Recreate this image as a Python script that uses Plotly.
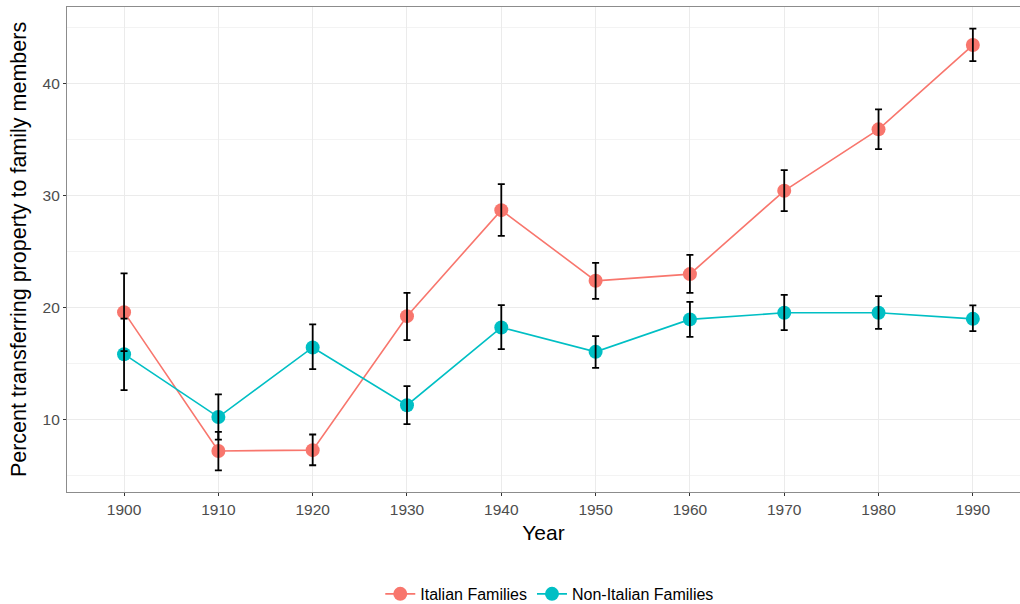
import plotly.graph_objects as go

years = [1900, 1910, 1920, 1930, 1940, 1950, 1960, 1970, 1980, 1990]

italian = [19.58, 7.17, 7.24, 19.22, 28.70, 22.38, 22.98, 30.43, 35.92, 43.46]
italian_hi = [23.04, 8.87, 8.64, 21.31, 31.03, 23.99, 24.70, 32.28, 37.71, 44.92]
italian_lo = [16.10, 5.44, 5.89, 17.07, 26.40, 20.77, 21.31, 28.61, 34.16, 42.03]

non_italian = [15.82, 10.20, 16.42, 11.26, 18.21, 16.03, 18.93, 19.52, 19.52, 18.98]
non_italian_hi = [19.00, 12.22, 18.48, 12.96, 20.21, 17.43, 20.50, 21.13, 21.01, 20.18]
non_italian_lo = [12.60, 8.19, 14.48, 9.56, 16.27, 14.60, 17.37, 17.97, 18.09, 17.88]

series = [
    ("Italian Families", italian, italian_hi, italian_lo, "#F8766D"),
    ("Non-Italian Families", non_italian, non_italian_hi, non_italian_lo, "#00BFC4"),
]

fig = go.Figure()
for name, vals, hi, lo, col in series:
    fig.add_trace(go.Scatter(
        x=years, y=vals, mode="lines+markers", name=name,
        line=dict(color=col, width=1.6),
        marker=dict(color=col, size=14),
    ))
for name, vals, hi, lo, col in series:
    fig.add_trace(go.Scatter(
        x=years, y=vals, mode="markers", showlegend=False, hoverinfo="skip",
        marker=dict(size=1, opacity=0),
        error_y=dict(type="data", symmetric=False,
                     array=[h - v for h, v in zip(hi, vals)],
                     arrayminus=[v - l for l, v in zip(lo, vals)],
                     color="black", thickness=1.8, width=3.5),
    ))

fig.update_layout(
    width=1020, height=604,
    margin=dict(l=67, r=0, t=7, b=112),
    paper_bgcolor="white", plot_bgcolor="white",
    font=dict(family="Liberation Sans, Arial, sans-serif", color="black"),
    showlegend=True,
    legend=dict(orientation="h", xref="container", yref="container",
                x=0.539, xanchor="center", y=0.0166, yanchor="middle",
                font=dict(size=16, color="black"), itemwidth=30,
                bgcolor="rgba(0,0,0,0)", tracegroupgap=0),
)
fig.update_xaxes(
    range=[1893.95, 1995.0], tickmode="array", tickvals=years,
    ticktext=[str(y) for y in years],
    showgrid=True, gridcolor="#EBEBEB", gridwidth=1.2,
    showline=True, linecolor="#8C8C8C", linewidth=1.2, mirror=True,
    ticks="outside", ticklen=3, tickcolor="#333333", tickwidth=1.2,
    tickfont=dict(size=15.5, color="#4D4D4D"),
    zeroline=False, automargin=False,
    title=dict(text="Year", font=dict(size=21, color="black"), standoff=8),
)
fig.update_yaxes(
    range=[3.5, 46.86], tickmode="array", tickvals=[10, 20, 30, 40],
    showgrid=True, gridcolor="#EBEBEB", gridwidth=1.2,
    minor=dict(tickmode="array", tickvals=[5, 15, 25, 35, 45], showgrid=True,
               gridcolor="#F3F3F3", gridwidth=0.8, ticks=""),
    showline=True, linecolor="#8C8C8C", linewidth=1.2, mirror=True,
    ticks="outside", ticklen=3, tickcolor="#333333", tickwidth=1.2,
    tickfont=dict(size=15.5, color="#4D4D4D"),
    zeroline=False, automargin=False,
    title=dict(text="Percent transferring property to family members",
               font=dict(size=21.5, color="black"), standoff=10),
)

fig.write_html(
    "out.html",
    config={"displayModeBar": False},
    post_script="document.body.style.margin='0';document.body.style.overflow='hidden';",
)
